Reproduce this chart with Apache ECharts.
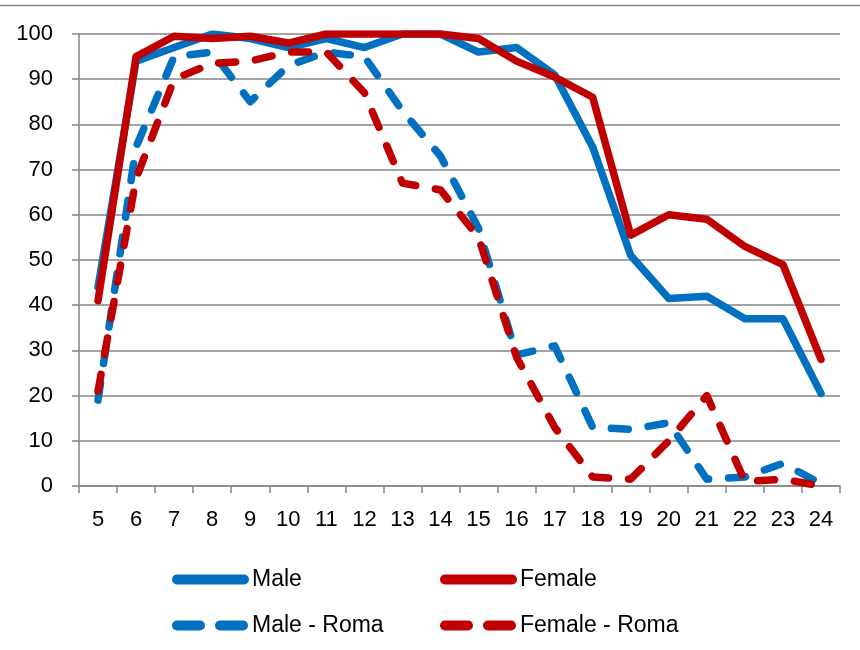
<!DOCTYPE html>
<html>
<head>
<meta charset="utf-8">
<script src="https://cdn.jsdelivr.net/npm/echarts@6/dist/echarts.min.js"></script>
<style>
  html, body { margin: 0; padding: 0; background: #fff; }
  #chart { width: 860px; height: 650px; }
</style>
</head>
<body>
<div id="chart"></div>
<script>
// ages on the x axis
const ages = ['5', '6', '7', '8', '9', '10', '11', '12', '13', '14', '15', '16', '17', '18', '19', '20', '21', '22', '23', '24']

const male = [44, 94, 97, 100, 99, 97, 99, 97, 100, 100, 96, 97, 91, 75, 51, 41.5, 42, 37, 37, 20.5]
const female = [41, 95, 99.5, 99, 99.5, 98, 100, 100, 100, 100, 99, 94, 90.5, 86, 55.5, 60, 59, 53, 49, 28]
const maleRoma = [19, 75, 95, 96, 85, 93, 96, 95, 83, 73, 57, 29, 31, 13, 12.5, 14, 1.5, 2, 5, 0.5]
const femaleRoma = [21, 68, 90, 93.5, 94, 96, 96, 87, 67, 65.5, 55, 28.5, 13, 2, 1.5, 10, 20, 1, 1.5, 0]

const yTicks = { min: 0, max: 100, interval: 10 }

const BLUE = '#0070C0'
const RED = '#C00000'
const GRID_GRAY = '#868686'
const FONT = 'Liberation Sans, Arial, sans-serif'

const dash = [17, 20]

function makeSeries(name, data, color, dashed) {
  return {
    name: name,
    type: 'line',
    data: data,
    symbol: 'none',
    smooth: false,
    animation: false,
    lineStyle: {
      color: color,
      width: 7.5,
      type: dashed ? dash : 'solid',
      cap: 'round',
      join: 'round'
    },
    itemStyle: { color: color }
  }
}

// one legend per entry so the two columns line up like the original
function makeLegend(name, left, top, dashed) {
  return {
    data: [name],
    left: left,
    top: top,
    padding: 0,
    itemWidth: 67,
    itemHeight: 16,
    itemStyle: { opacity: 0 },
    lineStyle: {
      width: 10,
      cap: 'round',
      type: dashed ? [23, 20] : 'solid'
    },
    textStyle: { fontFamily: FONT, fontSize: 23, color: '#000', padding: [0, 0, 0, 3] }
  }
}

const chart = echarts.init(document.getElementById('chart'))
chart.setOption({
  animation: false,
  backgroundColor: '#fff',
  grid: { left: 79, right: 20, top: 34, bottom: 164, containLabel: false },
  legend: [
    makeLegend('Male', 172, 568, false),
    makeLegend('Female', 440, 568, false),
    makeLegend('Male - Roma', 172, 614, true),
    makeLegend('Female - Roma', 440, 614, true)
  ],
  graphic: [
    {
      type: 'line',
      shape: { x1: 0, y1: 5.5, x2: 860, y2: 5.5 },
      style: { stroke: GRID_GRAY, lineWidth: 1.5 },
      silent: true
    }
  ],
  xAxis: {
    type: 'category',
    data: ages,
    boundaryGap: true,
    axisLine: { lineStyle: { color: GRID_GRAY, width: 1.5 } },
    axisTick: { show: true, length: 7, lineStyle: { color: GRID_GRAY, width: 1.5 } },
    axisLabel: { margin: 23, fontFamily: FONT, fontSize: 22, color: '#000' },
    splitLine: { show: false }
  },
  yAxis: {
    type: 'value',
    min: yTicks.min,
    max: yTicks.max,
    interval: yTicks.interval,
    axisLine: { show: true, lineStyle: { color: GRID_GRAY, width: 1.5 } },
    axisTick: { show: true, length: 7, lineStyle: { color: GRID_GRAY, width: 1.5 } },
    axisLabel: { margin: 26, fontFamily: FONT, fontSize: 22, color: '#000' },
    splitLine: { show: true, lineStyle: { color: GRID_GRAY, width: 1.5 } }
  },
  series: [
    makeSeries('Male', male, BLUE, false),
    makeSeries('Female', female, RED, false),
    makeSeries('Male - Roma', maleRoma, BLUE, true),
    makeSeries('Female - Roma', femaleRoma, RED, true)
  ]
})
</script>
</body>
</html>
